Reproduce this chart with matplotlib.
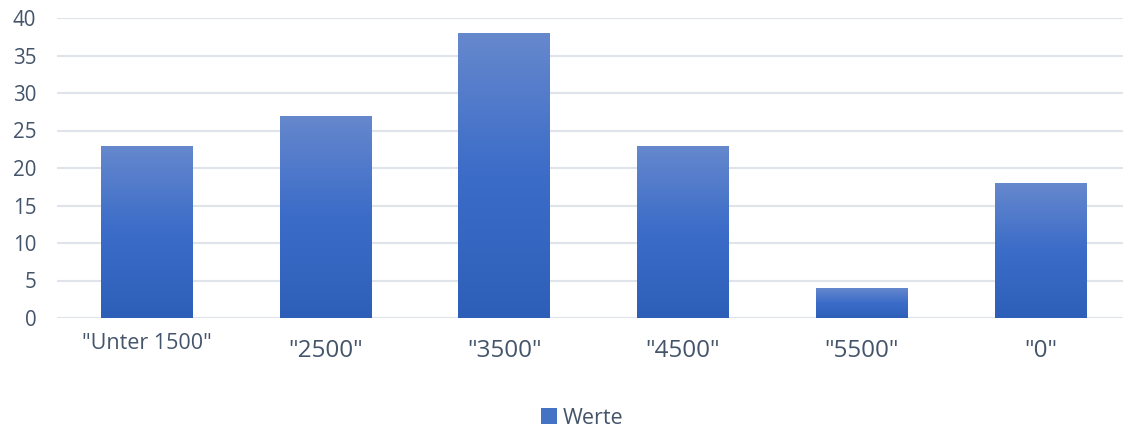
import numpy as np
import matplotlib.pyplot as plt
from matplotlib.colors import LinearSegmentedColormap
from matplotlib.patches import Patch

categories = ['"Unter 1500"', '"2500"', '"3500"', '"4500"', '"5500"', '"0"']
werte = [23, 27, 38, 23, 4, 18]

text_col = '#44546a'
grid_col = '#dfe3ea'
fill = LinearSegmentedColormap.from_list('bar', ['#2e5fb8', '#3b6cc8', '#6688cd'])

plt.rcParams['font.family'] = ['Open Sans', 'DejaVu Sans']

fig = plt.figure(figsize=(11.23, 4.29), dpi=100)
ax = fig.add_axes([57 / 1123, 1 - 318 / 429, 1073 / 1123, 300 / 429])

x = np.arange(len(categories))
bars = ax.bar(x, werte, width=0.51, color='none', zorder=3)

# gradient fill, light at top, darker at bottom
grad = np.linspace(0, 1, 256).reshape(-1, 1)
for b in bars:
    x0, y0 = b.get_x(), b.get_y()
    w, h = b.get_width(), b.get_height()
    im = ax.imshow(grad, cmap=fill, origin='lower', aspect='auto',
                   extent=[x0, x0 + w, y0, y0 + h], zorder=3)
    im.set_clip_path(b)

ax.set_xlim(-0.5, len(categories) - 0.5)
ax.set_ylim(0, 40)
ax.set_yticks(range(0, 41, 5))
ax.yaxis.grid(True, color=grid_col, linewidth=1.5, zorder=0)
ax.set_axisbelow(True)
for s in ax.spines.values():
    s.set_visible(False)
ax.tick_params(axis='both', length=0, colors=text_col)
ax.tick_params(axis='y', labelsize=14.8, pad=15)

ax.set_xticks(x)
ax.set_xticklabels(categories)
ax.tick_params(axis='x', labelsize=17.5, pad=15)
for i, lab in enumerate(ax.get_xticklabels()):
    if i == 0:
        lab.set_fontsize(15.5)
ax.xaxis.get_major_ticks()[0].set_pad(11)

handle = Patch(facecolor='#4472c4', edgecolor='none')
fig.legend([handle], ['Werte'], loc='center', bbox_to_anchor=(582 / 1123, 1 - 418 / 429),
           frameon=False, fontsize=15.5, labelcolor=text_col,
           handlelength=0.75, handleheight=0.75, handletextpad=0.25)

fig.savefig('out.png', dpi=100)
